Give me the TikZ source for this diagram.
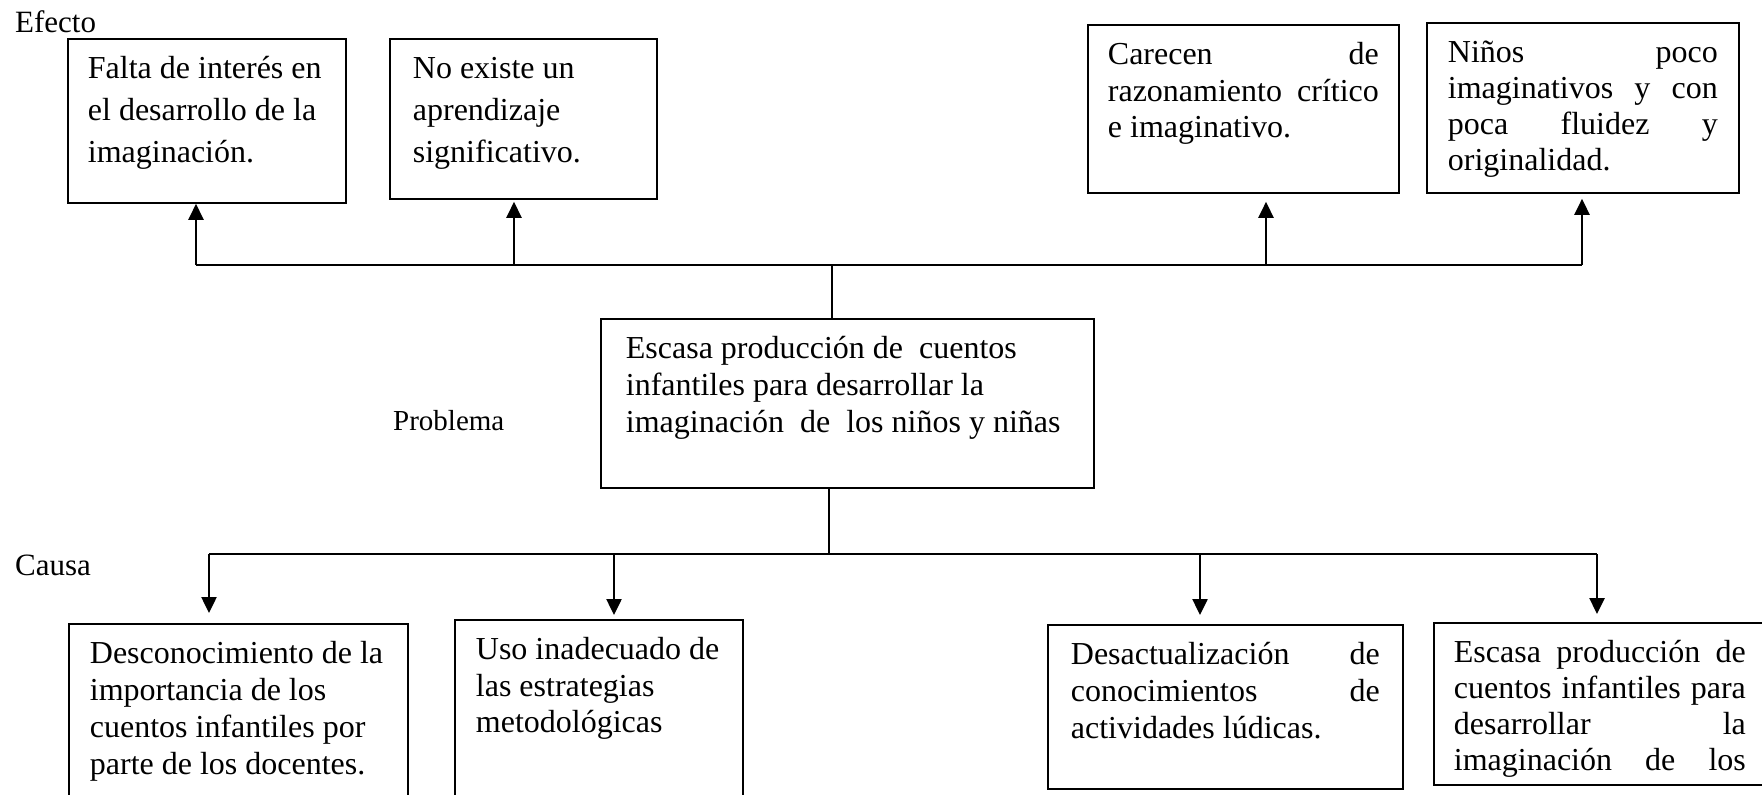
\documentclass[tikz,border=0pt]{standalone}
\usepackage{fontspec}
\setmainfont{Liberation Serif}
\usetikzlibrary{arrows.meta,calc}
\newcommand{\jl}[1]{\makebox[\linewidth][s]{#1}}
\newcommand{\bx}[4]{\parbox[t][#2pt][t]{#1pt}{\fontsize{32}{#3}\selectfont\rule{0pt}{40pt}#4}}
\begin{document}
\begin{tikzpicture}[x=1pt,y=-1pt,
  box/.style={draw, line width=1.8pt, inner ysep=0pt, anchor=north west},
  ln/.style={line width=2pt},
  vln/.style={line width=1.6pt},
  arr/.style={line width=2.5pt, -{Triangle[length=16pt,width=15pt]}},
  lab/.style={anchor=base west, inner sep=0pt, font=\fontsize{31}{37}\selectfont}]
\useasboundingbox (0,0) rectangle (1762,795);
\clip (0,0) rectangle (1762,795);

% labels
\node[lab] (efecto) at (15,32) {Efecto};
\node[lab] (causa) at (15,575) {Causa};
\node[lab, font=\fontsize{29}{35}\selectfont] (problema) at (393,430) {Problema};

% effect boxes
\node[box, inner xsep=20pt] (e1) at (67,38) {\bx{238}{164}{42}{Falta de interés en\\el desarrollo de la\\imaginación.}};
\node[box, inner xsep=23pt] (e2) at (389,38) {\bx{221}{160}{42}{No existe un\\aprendizaje\\significativo.}};
\node[box, inner xsep=20pt] (e3) at (1087,24) {\bx{271}{168}{36.5}{\jl{Carecen de}\\\jl{razonamiento crítico}\\e imaginativo.}};
\node[box, inner xsep=21pt] (e4) at (1426,22) {\bx{270}{170}{35.8}{\jl{Niños poco}\\\jl{imaginativos y con}\\\jl{poca fluidez y}\\originalidad.}};

% problem box
\node[box, inner xsep=25pt] (m) at (600,318) {\bx{443}{169}{37}{Escasa producción de~ cuentos\\infantiles para desarrollar la\\imaginación~ de~ los niños y niñas}};

% cause boxes
\node[box, inner xsep=21pt] (k1) at (68,623) {\bx{297}{200}{37}{Desconocimiento de la\\importancia de los\\cuentos infantiles por\\parte de los docentes.}};
\node[box, inner xsep=21pt] (k2) at (454,619) {\bx{246}{200}{36.5}{Uso inadecuado de\\las estrategias\\metodológicas}};
\node[box, inner xsep=23pt] (k3) at (1047,624) {\bx{309}{164}{37}{\jl{Desactualización de}\\\jl{conocimientos de}\\actividades lúdicas.}};
\node[box, inner xsep=20pt] (k4) at (1433,622) {\bx{292}{162}{36}{\jl{Escasa producción de}\\\jl{cuentos infantiles para}\\\jl{desarrollar la}\\\jl{imaginación de los}}};

% top connectors
\coordinate (t1) at (196,265);
\coordinate (t2) at (514,265);
\coordinate (t3) at (1266,265);
\coordinate (t4) at (1582,265);
\coordinate (tm) at (832,265);
\draw[ln] (t1) -- (t4);
\draw[vln] (m.north -| tm) -- (tm);
\draw[arr] (t1) -- (t1 |- e1.south);
\draw[arr] (t2) -- ($(t2 |- e2.south)+(0,2)$);
\draw[arr] (t3) -- ($(t3 |- e3.south)+(0,8)$);
\draw[arr] (t4) -- ($(t4 |- e4.south)+(0,5)$);

% bottom connectors
\coordinate (c1) at (209,554);
\coordinate (c2) at (614,554);
\coordinate (c3) at (1200,554);
\coordinate (c4) at (1597,554);
\coordinate (cm) at (829,554);
\draw[vln] (m.south -| cm) -- (cm);
\draw[ln] (c1) -- (c4);
\draw[arr] (c1) -- ($(c1 |- k1.north)+(0,-10)$);
\draw[arr] (c2) -- ($(c2 |- k2.north)+(0,-4)$);
\draw[arr] (c3) -- ($(c3 |- k3.north)+(0,-9)$);
\draw[arr] (c4) -- ($(c4 |- k4.north)+(0,-8)$);
\end{tikzpicture}
\end{document}
